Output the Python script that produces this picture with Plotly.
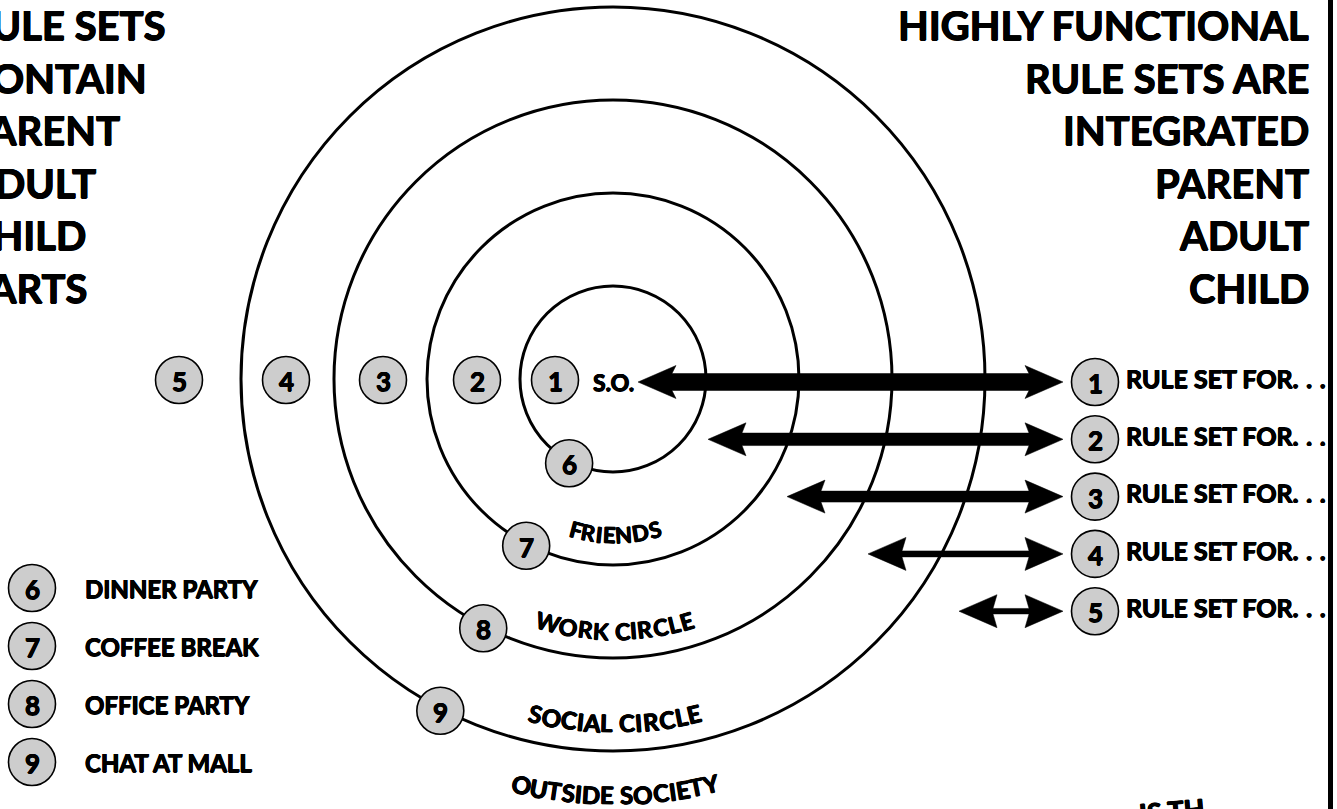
import math
import plotly.graph_objects as go

# ---------------- data (texts / labels) ----------------
left_title = ["RULE SETS", "CONTAIN", "PARENT", "ADULT", "CHILD", "PARTS"]
right_title = ["HIGHLY FUNCTIONAL", "RULE SETS ARE", "INTEGRATED", "PARENT", "ADULT", "CHILD"]
ring_labels = ["FRIENDS", "WORK CIRCLE", "SOCIAL CIRCLE", "OUTSIDE SOCIETY"]
row_numbers = ["1", "2", "3", "4", "5"]
edge_numbers = ["6", "7", "8", "9"]
legend_labels = ["DINNER PARTY", "COFFEE BREAK", "OFFICE PARTY", "CHAT AT MALL"]
rule_numbers = ["1", "2", "3", "4", "5"]
rule_label = "RULE SET FOR.\u00a0\u200a.\u00a0\u200a."
center_label = "S.O."
footer_fragment = "IS TH"

# ---------------- layout / style constants ----------------
W, H = 1337, 809
FONT = "Lato"
WEIGHT = "bold"
SHADOW = "0.6px 0 0 black, -0.6px 0 0 black, 0 0.5px 0 black, 0 -0.4px 0 black"
CX, CY = 613, 379
RING_STEP = 93
ring_radii = [RING_STEP * (k + 1) for k in range(4)]
ring_text_radius = [156, 252, 344, 416]
ring_text_size = [22, 23, 24, 24]
row_badge_x = [555, 477, 383, 286, 179]
ROW_Y = 380
EDGE_ANGLE = 117.5
BADGE_R = 23.5
BADGE_FILL = "#cdcdcd"
LEG_X, LEG_Y0, LEG_DY = 32, 588, 58
RULE_X, RULE_Y0, RULE_DY = 1095, 382, 57.3
arrow_left_tip = [638, 708, 787, 868, 959]
arrow_shaft = [17, 12.5, 11, 6, 5.5]
ARROW_RIGHT_TIP = 1063
HEAD_L, HEAD_H, BARB = 38, 16.5, 4
TITLE_SIZE = 40
TITLE_Y0, TITLE_DY = 25, 52.6

CHAR_W = {"A": .69, "B": .68, "C": .68, "D": .76, "E": .58, "F": .56, "G": .73, "H": .75,
          "I": .29, "K": .70, "L": .54, "N": .76, "O": .80, "P": .64, "R": .68, "S": .55,
          "T": .60, "U": .72, "W": 1.0, "Y": .62, " ": .25, ".": .25}

shapes = []
annotations = []


def tfont(size):
    return dict(family=FONT, size=size, color="black", weight=WEIGHT, shadow=SHADOW)


def ann(x, y, text, size, xanchor="center", angle=0, paper=False):
    if paper:
        x, y, xref, yref = x / W, 1 - y / H, "paper", "paper"
    else:
        xref, yref = "x", "y"
    annotations.append(dict(x=x, y=y, xref=xref, yref=yref, text=text, showarrow=False,
                            xanchor=xanchor, yanchor="middle", textangle=angle,
                            font=tfont(size)))


def badge(x, y, label):
    shapes.append(dict(type="circle", xref="x", yref="y", x0=x - BADGE_R, x1=x + BADGE_R,
                       y0=y - BADGE_R, y1=y + BADGE_R, fillcolor=BADGE_FILL,
                       line=dict(color="black", width=1.6), layer="above"))
    ann(x, y + 1, label, 26)


# rings
for r in ring_radii:
    shapes.append(dict(type="circle", xref="x", yref="y", x0=CX - r, x1=CX + r,
                       y0=CY - r, y1=CY + r, line=dict(color="black", width=3), layer="above"))

# arrows
for i, (lt, sw) in enumerate(zip(arrow_left_tip, arrow_shaft)):
    y = RULE_Y0 + RULE_DY * i
    rt = ARROW_RIGHT_TIP
    h = sw / 2
    pts = [(lt, y), (lt + HEAD_L, y - HEAD_H), (lt + HEAD_L - BARB, y - h),
           (rt - HEAD_L + BARB, y - h), (rt - HEAD_L, y - HEAD_H), (rt, y),
           (rt - HEAD_L, y + HEAD_H), (rt - HEAD_L + BARB, y + h),
           (lt + HEAD_L - BARB, y + h), (lt + HEAD_L, y + HEAD_H)]
    path = "M " + " L ".join(f"{px},{py}" for px, py in pts) + " Z"
    shapes.append(dict(type="path", xref="x", yref="y", path=path, fillcolor="black",
                       line=dict(color="black", width=0.5), layer="above"))

# row badges 1..5
for x, lab in zip(row_badge_x, row_numbers):
    badge(x, ROW_Y, lab)

# badges on rings 6..9
for r, lab in zip(ring_radii, edge_numbers):
    th = math.radians(EDGE_ANGLE)
    badge(CX + (r + 2) * math.cos(th), CY + (r + 2) * math.sin(th), lab)

# legend
for i, (lab, txt) in enumerate(zip(edge_numbers, legend_labels)):
    y = LEG_Y0 + LEG_DY * i
    badge(LEG_X, y, lab)
    ann(83, y, txt, 24, xanchor="left")

# right rule badges
rule_ys = []
for i, lab in enumerate(rule_numbers):
    y = RULE_Y0 + RULE_DY * i
    rule_ys.append(y)
    badge(RULE_X, y, lab)

# centre label
ann(591, 382, center_label, 23, xanchor="left")

# titles
for i, t in enumerate(right_title):
    ann(1311, TITLE_Y0 + TITLE_DY * i, t, TITLE_SIZE, xanchor="right")
for i, t in enumerate(left_title):
    ann(-36, TITLE_Y0 + TITLE_DY * i, t, TITLE_SIZE, xanchor="left", paper=True)


# curved ring labels
def arc_text(text, r, size):
    widths = [CHAR_W.get(ch, 0.6) * size for ch in text]
    s = sum(widths) / 2
    for ch, w in zip(text, widths):
        mid = s - w / 2
        s -= w
        if ch == " ":
            continue
        th = math.pi / 2 + mid / r
        ann(CX + 2 + r * math.cos(th), CY + r * math.sin(th), ch, size,
            angle=math.degrees(mid / r))


for lab, r, sz in zip(ring_labels, ring_text_radius, ring_text_size):
    arc_text(lab, r, sz)

# footer fragment (cut by bottom edge)
ann(1172, 810, footer_fragment, 27, angle=-5, paper=True)

fig = go.Figure()
# clipped rule labels (scatter text so the border can cover them)
fig.add_trace(go.Scatter(x=[1126] * len(rule_ys), y=rule_ys, mode="text",
                         text=[rule_label] * len(rule_ys), textposition="middle right",
                         textfont=tfont(25),
                         hoverinfo="skip", showlegend=False, cliponaxis=True))

# right border
shapes.append(dict(type="rect", xref="x", yref="y", x0=1328, x1=1345, y0=-10, y1=H + 10,
                   fillcolor="white", line=dict(width=0), layer="above"))
shapes.append(dict(type="rect", xref="x", yref="y", x0=1328, x1=1333, y0=-10, y1=H + 10,
                   fillcolor="black", line=dict(width=0), layer="above"))

fig.update_layout(
    width=W, height=H, margin=dict(l=0, r=0, t=0, b=0),
    paper_bgcolor="white", plot_bgcolor="white",
    xaxis=dict(range=[0, W], visible=False, fixedrange=True),
    yaxis=dict(range=[H, 0], visible=False, fixedrange=True),
    shapes=shapes, annotations=annotations, showlegend=False,
)

fig.write_html("out.html", config={"displayModeBar": False},
               post_script="document.body.style.margin='0';document.body.style.overflow='hidden';")
